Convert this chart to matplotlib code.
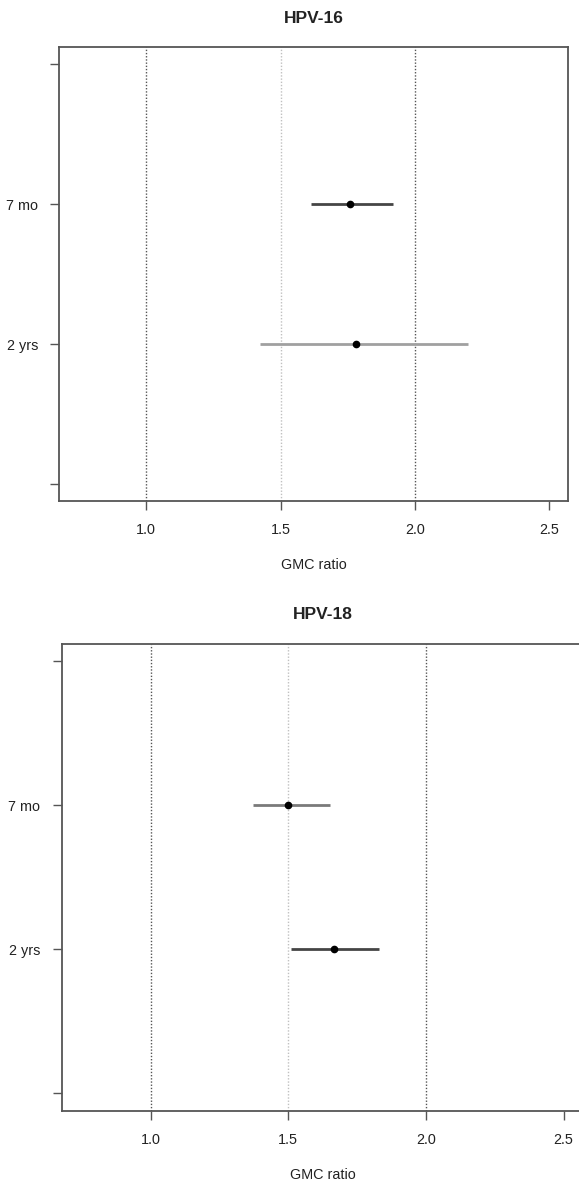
import matplotlib
matplotlib.use("Agg")
import matplotlib.pyplot as plt

plt.rcParams['font.family'] = ['Liberation Sans', 'DejaVu Sans']

# ---- data ----
categories = ["7 mo", "2 yrs"]
hpv16_est = [1.76, 1.78]
hpv16_low = [1.615, 1.425]
hpv16_high = [1.92, 2.20]
hpv18_est = [1.50, 1.665]
hpv18_low = [1.37, 1.51]
hpv18_high = [1.65, 1.83]
xticks = [1.0, 1.5, 2.0, 2.5]
xtick_labels = ["1.0", "1.5", "2.0", "2.5"]
ref_lines = [1.0, 1.5, 2.0]

W, H = 579, 1182
fig = plt.figure(figsize=(W / 100, H / 100), dpi=100)

panels = [
    dict(title="HPV-16", est=hpv16_est, low=hpv16_low, high=hpv16_high,
         box=(59.3, 47.3, 568.3, 501.0), line_colors=["#454545", "#a0a0a0"]),
    dict(title="HPV-18", est=hpv18_est, low=hpv18_low, high=hpv18_high,
         box=(61.5, 643.7, 583.4, 1110.7), line_colors=["#7a7a7a", "#454545"]),
]

ref_colors = {1.0: "#555555", 1.5: "#c0c0c0", 2.0: "#555555"}
ypos = [2, 1]
spine_col = "#555555"
text_col = "#222222"

for p in panels:
    x0, y0, x1, y1 = p["box"]
    ax = fig.add_axes([x0 / W, 1 - y1 / H, (x1 - x0) / W, (y1 - y0) / H])
    ax.set_xlim(0.676, 2.572)
    ax.set_ylim(-0.12, 3.12)
    for rv in ref_lines:
        ax.axvline(rv, color=ref_colors[rv], lw=1.0, ls=(0, (1, 1.3)), zorder=1)
    for i in range(len(categories)):
        ax.plot([p["low"][i], p["high"][i]], [ypos[i], ypos[i]],
                color=p["line_colors"][i], lw=2.0, solid_capstyle="butt", zorder=2)
        ax.plot([p["est"][i]], [ypos[i]], "o", color="black", ms=4.5, zorder=3)
    ax.set_xticks(xticks)
    ax.set_xticklabels(xtick_labels)
    ax.set_yticks([0, 1, 2, 3])
    ax.set_yticklabels(["", "2 yrs", "7 mo", ""])
    ax.tick_params(axis="x", length=6.5, width=1.0, color=spine_col, pad=9.5,
                   labelsize=10.4, labelcolor=text_col)
    ax.tick_params(axis="y", length=6.2, width=1.0, color=spine_col, pad=9,
                   labelsize=10.4, labelcolor=text_col)
    for s in ax.spines.values():
        s.set_color(spine_col)
        s.set_linewidth(1.3)
    cx = (x0 + x1) / 2 / W
    fig.text(cx, 1 - (y0 - 29) / H, p["title"], ha="center", va="center",
             fontsize=12.5, fontweight="bold", color=text_col)
    fig.text(cx, 1 - (y1 + 64) / H, "GMC ratio", ha="center", va="center",
             fontsize=10.4, color=text_col)

fig.savefig("out.png", dpi=100)
